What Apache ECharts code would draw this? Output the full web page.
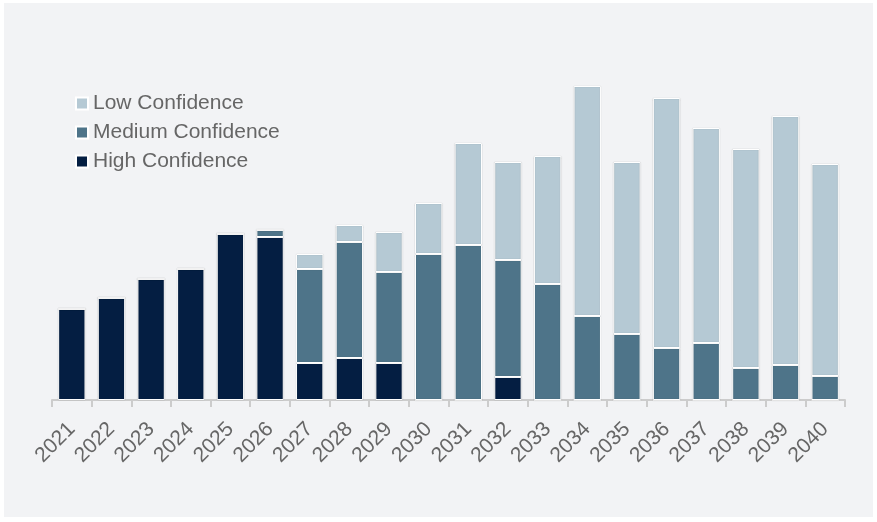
<!DOCTYPE html>
<html>
<head>
<meta charset="utf-8">
<script src="https://cdn.jsdelivr.net/npm/echarts@6/dist/echarts.min.js"></script>
<style>
html,body{margin:0;padding:0;background:#ffffff;}
#c{position:absolute;left:4px;top:3px;width:869px;height:514px;background:#f2f3f5;}
</style>
</head>
<body>
<div id="c"></div>
<script>
const categories = ['2021','2022','2023','2024','2025','2026','2027','2028','2029','2030','2031','2032','2033','2034','2035','2036','2037','2038','2039','2040'];
const highConfidence = [91,102,121,131,166,163,37,42,37,0,0,23,0,0,0,0,0,0,0,0];
const mediumConfidence = [0,0,0,0,0,7,94,116,91,146,155,117,116,84,66,52,57,32,35,24];
const lowConfidence = [0,0,0,0,0,0,15,17,40,51,102,98,128,230,172,250,215,219,249,212];
const seriesNames = ['Low Confidence','Medium Confidence','High Confidence'];

const chart = echarts.init(document.getElementById('c'));
const barStyle = (color) => ({color: color, borderColor: '#ffffff', borderWidth: 1, shadowColor: 'rgba(0,0,0,0.25)', shadowBlur: 1});
chart.setOption({
  animation: false,
  backgroundColor: '#f2f3f5',
  textStyle: {fontFamily: 'Liberation Sans, Arial, sans-serif'},
  legend: {
    data: seriesNames,
    orient: 'vertical',
    left: 66,
    top: 85,
    itemWidth: 12,
    itemHeight: 12,
    itemGap: 8,
    icon: 'rect',
    textStyle: {fontSize: 21, color: '#666666', lineHeight: 21, fontFamily: 'Liberation Sans, Arial, sans-serif'}
  },
  grid: {left: 48, right: 28, top: 67, bottom: 117, containLabel: false},
  xAxis: {
    type: 'category',
    data: categories,
    axisLine: {lineStyle: {color: '#cccccc', width: 2}},
    axisTick: {show: true, length: 7, lineStyle: {color: '#cccccc', width: 2}},
    axisLabel: {rotate: 45, fontSize: 21, color: '#666666', margin: 26, interval: 0, fontFamily: 'Liberation Sans, Arial, sans-serif'}
  },
  yAxis: {
    type: 'value', min: 0, max: 330, show: false,
    splitLine: {show: false}
  },
  series: [
    {name: 'High Confidence', type: 'bar', stack: 'total', data: highConfidence, barCategoryGap: '31%', itemStyle: barStyle('#041e42')},
    {name: 'Medium Confidence', type: 'bar', stack: 'total', data: mediumConfidence, itemStyle: barStyle('#4e7489')},
    {name: 'Low Confidence', type: 'bar', stack: 'total', data: lowConfidence, itemStyle: barStyle('#b5c9d4')}
  ]
});
</script>
</body>
</html>
